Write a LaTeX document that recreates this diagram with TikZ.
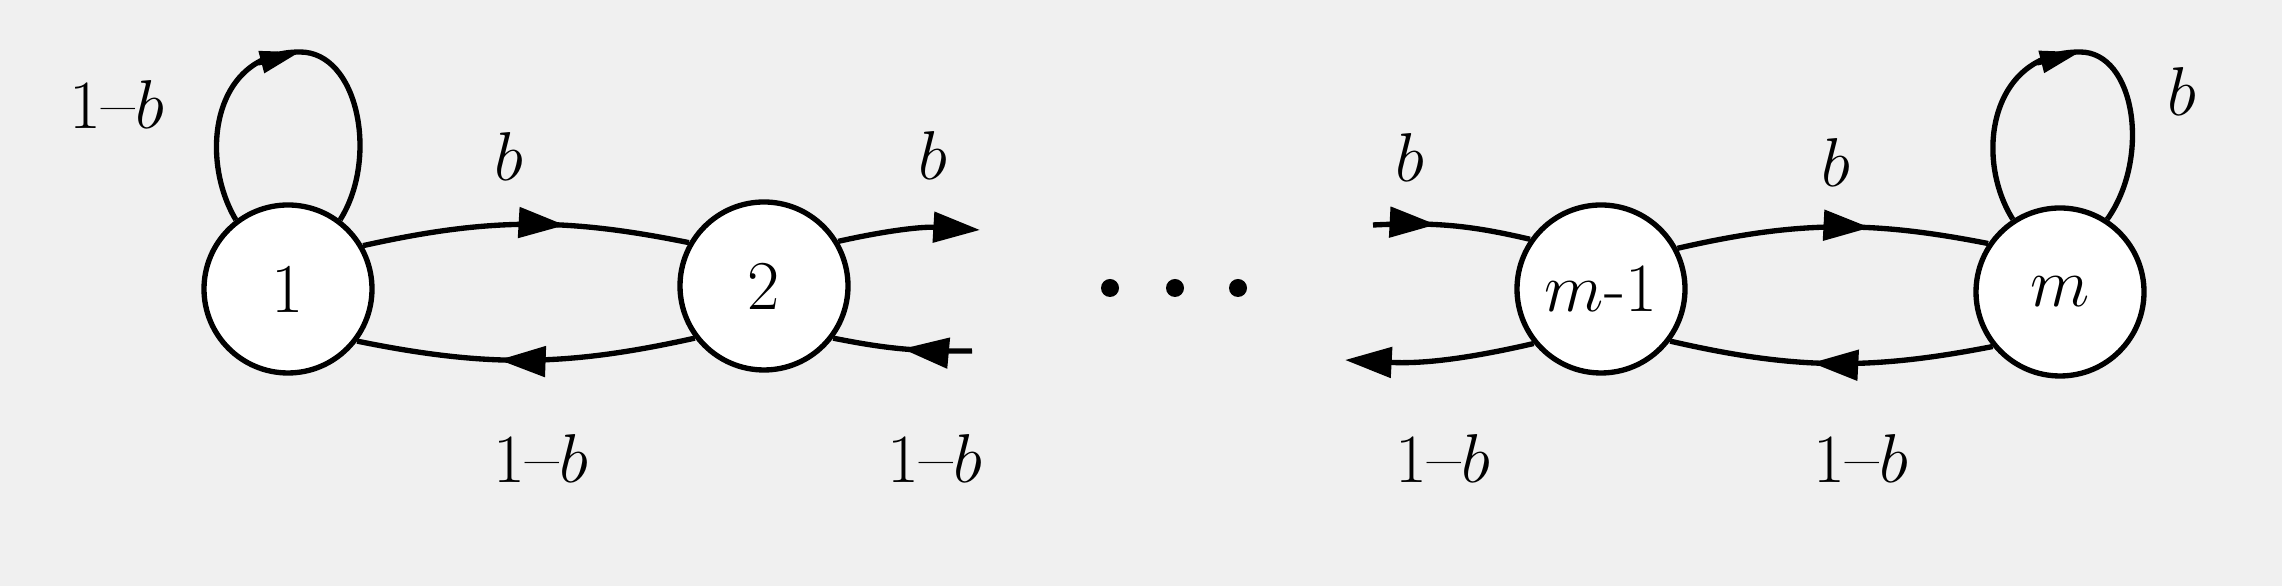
\documentclass[tikz,border=0pt]{standalone}
\usetikzlibrary{arrows.meta,decorations.markings}
\begin{document}
\begin{tikzpicture}[x=0.3pt,y=-0.3pt,
  state/.style={circle,draw,line width=1.6pt,fill=white,minimum size=50.4pt,inner sep=0pt,font=\fontsize{21}{25}\selectfont},
  lbl/.style={font=\fontsize{22}{26}\selectfont,inner sep=0pt},
  edgeline/.style={line width=1.6pt},
  bigtip/.tip={Triangle[length=14pt,width=9pt]},
  smalltip/.tip={Triangle[length=12pt,width=6.5pt]},
  midarrow/.style={postaction={decorate},decoration={markings,mark=at position #1 with {\arrow{bigtip}}}},
  dotn/.style={circle,fill=black,inner sep=0pt,minimum size=5.4pt}
]
\fill[black!6] (0,0) rectangle (2282,586);
\useasboundingbox (0,0) rectangle (2282,586);

% states
\node[state] (n1) at (288,289) {1};
\node[state] (n2) at (764,286) {2};
\node[state] (n3) at (1601,289) {$m$-$1$};
\node[state] (n4) at (2060,292) {$m$};

% dots
\node[dotn] (d1) at (1110,288) {};
\node[dotn] (d2) at (1175,288) {};
\node[dotn] (d3) at (1238,288) {};

% free ends
\coordinate (o2t) at (980,230);
\coordinate (i2b) at (972,351);
\coordinate (i3t) at (1373,225);
\coordinate (o3b) at (1345,360);
\coordinate (t1) at (300,52);
\coordinate (t1a) at (258,63);
\coordinate (t4) at (2080,52);
\coordinate (t4a) at (2037,63);

% edges between 1 and 2
\draw[edgeline,midarrow=0.62] (n1.30) to[bend left=12] (n2.150);
\draw[edgeline,midarrow=0.58] (n2.217) to[bend left=12] (n1.-37);

% partial edges at 2
\draw[edgeline,-{bigtip}] (n2.31) to[bend left=8] (o2t);
\draw[edgeline,midarrow=0.5] (i2b) to[bend left=6] (n2.-37);

% partial edges at m-1
\draw[edgeline,midarrow=0.4] (i3t) to[bend left=8] (n3.145);
\draw[edgeline,-{bigtip}] (n3.219) to[bend left=8] (o3b);

% edges between m-1 and m
\draw[edgeline,midarrow=0.62] (n3.28) to[bend left=12] (n4.146);
\draw[edgeline,midarrow=0.56] (n4.219) to[bend left=12] (n3.-37);

% self loops
\draw[edgeline] (n1.127) .. controls +(-37,-62) and +(-88,0) .. (t1)
  .. controls +(58,0) and +(39,-62) .. (n1.53);
\draw[edgeline,-{smalltip}] (t1a) -- (t1);
\draw[edgeline] (n4.123) .. controls +(-39,-62) and +(-90,0) .. (t4)
  .. controls +(55,0) and +(44,-62) .. (n4.57);
\draw[edgeline,-{smalltip}] (t4a) -- (t4);

% labels
\node[lbl] (l1) at (117,105) {$1$--$b$};
\node[lbl] (l2) at (509,157) {$b$};
\node[lbl] (l3) at (933,156) {$b$};
\node[lbl] (l4) at (1410,158) {$b$};
\node[lbl] (l5) at (1836,163) {$b$};
\node[lbl] (l6) at (2182,92) {$b$};
\node[lbl] (l7) at (541,459) {$1$--$b$};
\node[lbl] (l8) at (935,459) {$1$--$b$};
\node[lbl] (l9) at (1443,459) {$1$--$b$};
\node[lbl] (l10) at (1861,459) {$1$--$b$};
\end{tikzpicture}
\end{document}
